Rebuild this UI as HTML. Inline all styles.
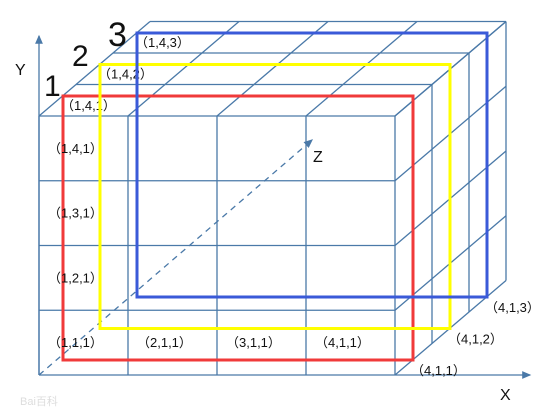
<!DOCTYPE html>
<html><head><meta charset="utf-8">
<style>
html,body{margin:0;padding:0;background:#fff;}
svg{display:block;}
text{font-family:"Liberation Sans","Noto Sans CJK SC",sans-serif;}
</style></head>
<body>
<svg id="c" width="547" height="409" viewBox="0 0 547 409" xmlns="http://www.w3.org/2000/svg">
<defs>
<marker id="ar" markerWidth="8" markerHeight="8" refX="6" refY="4" orient="auto"><path d="M0,1 L7,4 L0,7 Z" fill="#4a79a8"/></marker>
</defs>
</svg>
<script>
// data
const colX = [0,1,2,3,4];
const rowY = [0,1,2,3,4];
const depthZ = [0,1,2,3];
const frontLabels = [
 {t:"（1,4,1）",x:0,y:3},{t:"（1,3,1）",x:0,y:2},{t:"（1,2,1）",x:0,y:1},
 {t:"（1,1,1）",x:0,y:0},{t:"（2,1,1）",x:1,y:0},{t:"（3,1,1）",x:2,y:0},{t:"（4,1,1）",x:3,y:0}
];
const layers = [
 {z:0,color:"#f03a3a",name:"red-layer-1",topLbl:"（1,4,1）",botLbl:"（4,1,1）"},
 {z:1,color:"#ffff00",name:"yellow-layer-2",topLbl:"（1,4,2）",botLbl:"（4,1,2）"},
 {z:2,color:"#3a5ad8",name:"blue-layer-3",topLbl:"（1,4,3）",botLbl:"（4,1,3）"}
];
// axes
const X0=39,Y0=375,CW=89,RH=64.75,DX=37,DY=-31.5;
const px=(i,k)=>X0+i*CW+k*DX;
const py=(j,k)=>Y0-j*RH+k*DY;
const svg=document.getElementById('c');
const NS="http://www.w3.org/2000/svg";
function mk(tag,attrs,parent){const e=document.createElementNS(NS,tag);for(const k in attrs)e.setAttribute(k,attrs[k]);(parent||svg).appendChild(e);return e;}
const G="#4a79a8";
function line(x1,y1,x2,y2,name,extra){const l=mk('line',Object.assign({x1,y1,x2,y2,stroke:G,'stroke-width':1.3},extra||{}));

return l;}
const last=depthZ[depthZ.length-1];
colX.forEach(i=>line(px(i,0),py(0,0),px(i,0),py(4,0),'front-vline'));
rowY.forEach(j=>line(px(0,0),py(j,0),px(4,0),py(j,0),'front-hline'));
colX.forEach(i=>line(px(i,0),py(4,0),px(i,last),py(4,last),'top-diagonal'));
depthZ.forEach(k=>{if(k>0)line(px(0,k),py(4,k),px(4,k),py(4,k),'top-hline');});
rowY.forEach(j=>line(px(4,0),py(j,0),px(4,last),py(j,last),'right-diagonal'));
depthZ.forEach(k=>{if(k>0)line(px(4,k),py(0,k),px(4,k),py(4,k),'right-vline');});
line(X0,Y0,X0,36,'y-axis',{'marker-end':'url(#ar)'});
line(px(4,0),Y0,530,Y0,'x-axis',{'marker-end':'url(#ar)'});
line(X0,Y0,312,140,'z-axis',{'stroke-dasharray':'6,5','marker-end':'url(#ar)'});
function txt(s,x,y,size,name,fill){const t=mk('text',{x,y,'font-size':size,fill:fill||'#111'});t.textContent=s;

return t;}
txt("Y",15,75,16,'y-axis-title');
txt("X",500,400,16,'x-axis-title');
txt("Z",313,162,16,'z-axis-title');
layers.forEach(L=>{
 const x1=px(0,L.z)+24,y1=py(4,L.z)-20,x2=px(4,L.z)+18,y2=py(0,L.z)-15;
 const r=mk('rect',{x:x1,y:y1,width:x2-x1,height:y2-y1,fill:'none',stroke:L.color,'stroke-width':3});
 
 
 txt(L.topLbl,x1-2,y1+14,13,'layer-top-label');
 txt(L.botLbl,x2-2,y2+15,13,'layer-corner-label');
});
frontLabels.forEach(f=>txt(f.t,px(f.x,0)+9,py(f.y,0)-28,13,'cell-label'));
[["1",44,96,30],["2",72,66,30],["3",108,46,34]].forEach(h=>{txt(h[0],h[1],h[2],h[3],'layer-number');});
txt("Bai百科",20,405,11,'watermark','#ddd');
</script>
</body></html>
